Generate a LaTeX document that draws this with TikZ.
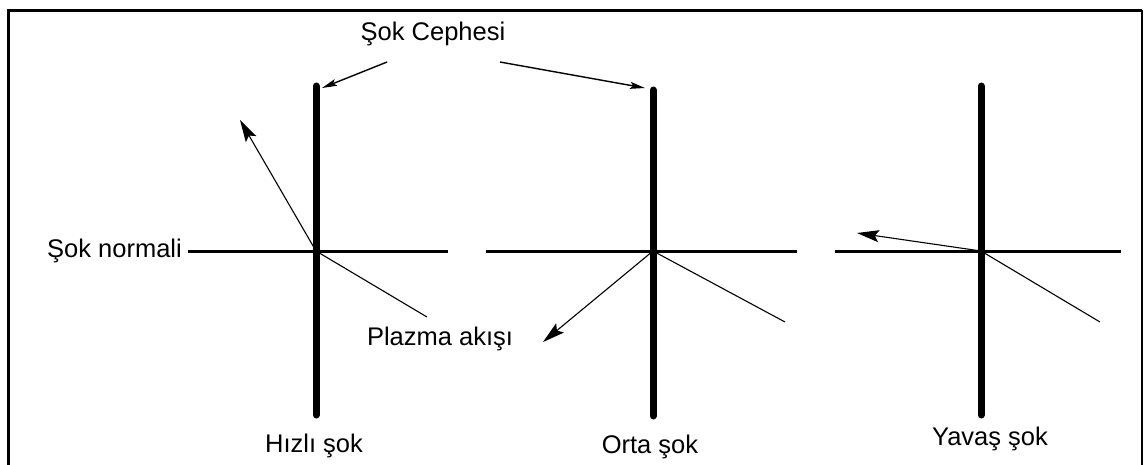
\documentclass[tikz,border=0pt]{standalone}
\usepackage{fontspec}
\setmainfont{Liberation Sans}
\usetikzlibrary{arrows.meta,positioning}
\tikzset{
  front/.style={line width=7pt, line cap=round},
  normal/.style={line width=3pt},
  flow/.style={line width=1.1pt},
  flowar/.style={flow, -{Stealth[length=22pt,width=12pt,inset=4pt]}},
  ptr/.style={line width=1.4pt, -{Stealth[length=15pt,width=7pt,inset=3pt]}},
  lbl/.style={font=\fontsize{25.5}{30}\selectfont, inner sep=0pt},
}

\begin{document}
\begin{tikzpicture}[x=1pt,y=-1pt]
\useasboundingbox (0,0) rectangle (1145,464);
% frame
\draw[line width=3pt] (8,470) -- (8,10) -- (1142,10);
\draw[line width=2pt] (1142,10) -- (1142,470);

% shock fronts and normals
\coordinate (c1) at (316,251); \coordinate (t1) at (316,86); \coordinate (b1) at (316,415);
\coordinate (c2) at (653,251); \coordinate (t2) at (653,90); \coordinate (b2) at (653,416);
\coordinate (c3) at (981,251); \coordinate (t3) at (981,86); \coordinate (b3) at (981,415);
\coordinate (na1) at (188,251); \coordinate (nb1) at (448,251);
\coordinate (na2) at (486,251); \coordinate (nb2) at (797,251);
\coordinate (na3) at (835,251); \coordinate (nb3) at (1121,251);
\draw[normal] (na1) -- (nb1); \draw[normal] (na2) -- (nb2); \draw[normal] (na3) -- (nb3);
\draw[front] (t1) -- (b1); \draw[front] (t2) -- (b2); \draw[front] (t3) -- (b3);

% plasma flow
\coordinate (u1) at (240,120); \coordinate (d1) at (427,317);
\coordinate (u2) at (543,342); \coordinate (d2) at (785,322);
\coordinate (u3) at (857,233); \coordinate (d3) at (1100,322);
\draw[flowar] (c1) -- (u1); \draw[flow] (c1) -- (d1);
\draw[flowar] (c2) -- (u2); \draw[flow] (c2) -- (d2);
\draw[flowar] (c3) -- (u3); \draw[flow] (c3) -- (d3);

% labels
\node[lbl, anchor=base] (cephe) at (433,40) {Şok Cephesi};
\coordinate (q1) at (387,62); \coordinate (p1) at (322,88);
\coordinate (q2) at (500,62); \coordinate (p2) at (645,88);
\draw[ptr] (q1) -- (p1); \draw[ptr] (q2) -- (p2);
\node[lbl, left=6pt of na1] (normali) {Şok normali};
\node[lbl, anchor=base] (plazma) at (440,345) {Plazma akışı};
\node[lbl, anchor=base] (hizli) at (314,452) {Hızlı şok};
\node[lbl, anchor=base] (orta) at (650,453) {Orta şok};
\node[lbl, anchor=base] (yavas) at (990,445) {Yavaş şok};
\end{tikzpicture}
\end{document}
